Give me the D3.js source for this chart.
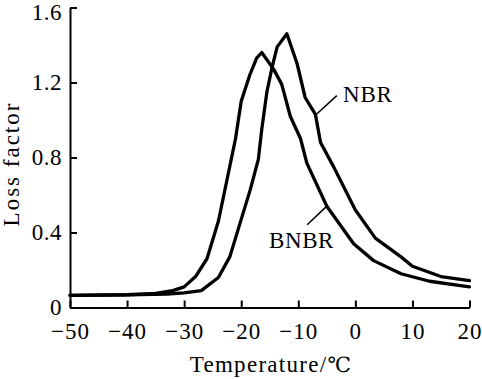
<!DOCTYPE html>
<html>
<head>
<meta charset="utf-8">
<script src="https://cdn.jsdelivr.net/npm/d3@7"></script>
<style>
  html, body { margin: 0; padding: 0; background: #fff; }
  svg { display: block; }
  text { font-family: 'Liberation Serif', 'DejaVu Serif', 'Times New Roman', serif; fill: #000; }
</style>
</head>
<body>
<svg id="chart" width="482" height="379"></svg>
<script>
// ---- data ----
const nbrTemp = [-50, -40, -33, -30, -27, -24, -22, -20.2, -18.4, -17, -16.4, -15.5, -14.6, -13.7, -12, -10.2, -8.8, -7, -6.1, -3.8, 0, 3.5, 8, 10, 15, 20];
const nbrLoss = [0.065, 0.067, 0.072, 0.078, 0.09, 0.16, 0.27, 0.45, 0.63, 0.79, 0.95, 1.15, 1.28, 1.39, 1.46, 1.30, 1.12, 1.03, 0.88, 0.75, 0.52, 0.37, 0.27, 0.22, 0.165, 0.143];
const bnbrTemp = [-50, -40, -35, -32, -30, -28, -26, -24, -22.5, -21, -20, -18.5, -17.3, -16.4, -14.3, -12.9, -11.4, -9.6, -8.5, -5, -0.3, 3.2, 8, 13, 20];
const bnbrLoss = [0.065, 0.068, 0.075, 0.09, 0.11, 0.165, 0.26, 0.46, 0.68, 0.90, 1.10, 1.24, 1.33, 1.36, 1.27, 1.19, 1.02, 0.90, 0.77, 0.54, 0.34, 0.25, 0.18, 0.14, 0.11];
const xTicks = [-50, -40, -30, -20, -10, 0, 10, 20];
const yTicks = [0, 0.4, 0.8, 1.2, 1.6];
const xTitle = "Temperature/";
const xUnit = "℃";
const yTitle = "Loss factor";
const seriesNames = ["NBR", "BNBR"];

const svg = d3.select("#chart");
const x = d3.scaleLinear().domain([-50, 20]).range([70, 469.5]);
const y = d3.scaleLinear().domain([0, 1.6]).range([307.5, 7.5]);

const fs = 23;

// axes
const xAxis = d3.axisBottom(x).tickValues(xTicks).tickSizeInner(-7).tickSizeOuter(0).tickPadding(15)
  .tickFormat(d3.format("d"));
const gx = svg.append("g").attr("transform", `translate(0,${y(0)})`).call(xAxis);
const yAxis = d3.axisLeft(y).tickValues(yTicks).tickSizeInner(-7).tickSizeOuter(0).tickPadding(8)
  .tickFormat(d => d === 0 ? "0" : d3.format(".1f")(d));
const gy = svg.append("g").attr("transform", `translate(${x(-50)},0)`).call(yAxis);

[gx, gy].forEach(g => {
  g.select(".domain").attr("stroke", "#000").attr("stroke-width", 2);
  g.selectAll(".tick line").attr("stroke", "#000").attr("stroke-width", 2);
  g.selectAll(".tick text").attr("font-size", fs)
    .attr("font-family", "'Liberation Serif', 'Times New Roman', serif").attr("fill", "#000");
});
gx.selectAll(".tick text").attr("dy", "0.71em").attr("letter-spacing", "1px");
gy.selectAll(".tick text").attr("letter-spacing", "0.5px")
  .attr("dy", d => d === 1.6 ? "0.5em" : "0.32em");

// lines
const line = d3.line().x(d => x(d[0])).y(d => y(d[1])).curve(d3.curveLinear);
const nbr = nbrTemp.map((t, i) => [t, nbrLoss[i]]);
const bnbr = bnbrTemp.map((t, i) => [t, bnbrLoss[i]]);
[nbr, bnbr].forEach(data => {
  svg.append("path").datum(data).attr("d", line)
    .attr("fill", "none").attr("stroke", "#000").attr("stroke-width", 3.3)
    .attr("stroke-linejoin", "round").attr("stroke-linecap", "round");
});

// labels with leader lines
svg.append("line").attr("x1", x(-6.95)).attr("y1", y(1.027)).attr("x2", x(-3.25)).attr("y2", y(1.13))
  .attr("stroke", "#000").attr("stroke-width", 1.5);
svg.append("text").attr("x", 343).attr("y", 102).attr("font-size", fs).attr("letter-spacing", "0.8px").text(seriesNames[0]);

svg.append("line").attr("x1", x(-4.95)).attr("y1", y(0.542)).attr("x2", x(-8.45)).attr("y2", y(0.441))
  .attr("stroke", "#000").attr("stroke-width", 1.5);
svg.append("text").attr("x", 269).attr("y", 248).attr("font-size", fs).attr("letter-spacing", "0.6px").text(seriesNames[1]);

// titles
const xt = svg.append("text").attr("x", 271).attr("y", 371.5).attr("text-anchor", "middle")
  .attr("font-size", fs).attr("letter-spacing", "1.3px");
xt.append("tspan").text(xTitle);
xt.append("tspan").attr("font-family", "'DejaVu Serif', serif").attr("font-size", fs - 2).text(xUnit);
svg.append("text").attr("transform", "translate(19,164) rotate(-90)").attr("text-anchor", "middle")
  .attr("font-size", fs).attr("letter-spacing", "2px").text(yTitle);
</script>
</body>
</html>
